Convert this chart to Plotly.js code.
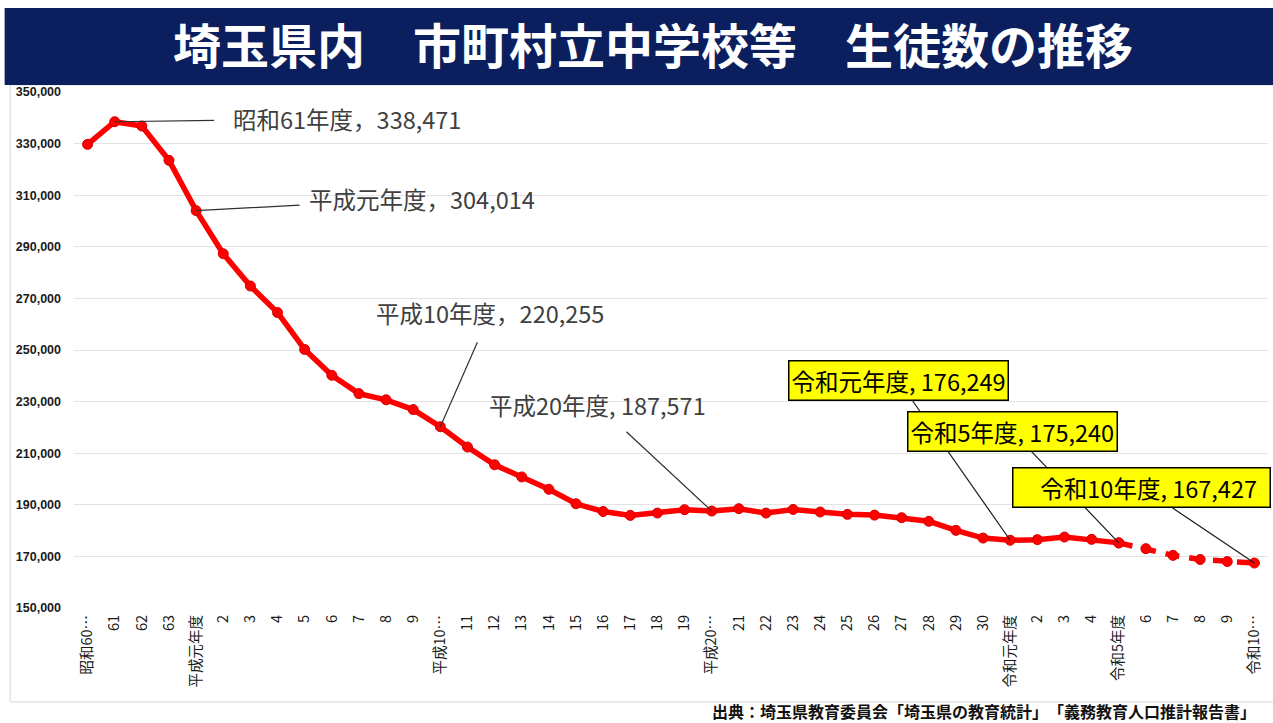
<!DOCTYPE html>
<html>
<head>
<meta charset="utf-8">
<script src="https://cdn.plot.ly/plotly-3.0.1.min.js"></script>
<style>
  html, body { margin: 0; padding: 0; background: #ffffff; }
  #chart { width: 1273px; height: 723px; }
</style>
</head>
<body>
<div id="chart"></div>
<script>
// ---- data ----
const yearLabels = [
  '昭和60…', '61', '62', '63', '平成元年度', '2', '3', '4', '5', '6', '7', '8', '9',
  '平成10…', '11', '12', '13', '14', '15', '16', '17', '18', '19',
  '平成20…', '21', '22', '23', '24', '25', '26', '27', '28', '29', '30',
  '令和元年度', '2', '3', '4', '令和5年度', '6', '7', '8', '9', '令和10…'
];
const students = [
  329700, 338471, 336800, 323500, 304014, 287300, 274800, 264500, 250200, 240200, 233100, 230700, 226900,
  220255, 212400, 205500, 200800, 196000, 190400, 187400, 185900, 186800, 188100,
  187571, 188500, 186800, 188200, 187200, 186300, 186000, 185000, 183600, 180100, 177100,
  176249, 176500, 177500, 176600, 175240, 173000, 170400, 168800, 168000, 167427
];
const lastActualIndex = 38;           // 令和5年度: after this the values are projections (dashed)
const calloutIndex  = [1, 4, 13, 23, 34, 38, 43];
const calloutPrefix = ['昭和61年度，', '平成元年度，', '平成10年度，', '平成20年度, ', '令和元年度, ', '令和5年度, ', '令和10年度, '];
const yTicks = [150000, 170000, 190000, 210000, 230000, 250000, 270000, 290000, 310000, 330000, 350000];
const titleText  = '埼玉県内　市町村立中学校等　生徒数の推移';
const sourceText = '出典：埼玉県教育委員会「埼玉県の教育統計」　「義務教育人口推計報告書」';

// ---- build ----
const xIdx = yearLabels.map((_, i) => i);
const JP = '"Noto Sans CJK JP", "Noto Sans", sans-serif';
const RED = '#ff0000';

const actual = {
  type: 'scatter', mode: 'lines+markers',
  x: xIdx.slice(0, lastActualIndex + 1),
  y: students.slice(0, lastActualIndex + 1),
  line: { color: RED, width: 5.5 },
  marker: { color: RED, size: 10, line: { color: '#d40000', width: 1 } },
  hoverinfo: 'skip', showlegend: false
};
const projected = {
  type: 'scatter', mode: 'lines+markers',
  x: xIdx.slice(lastActualIndex),
  y: students.slice(lastActualIndex),
  line: { color: RED, width: 5.5, dash: '14px,10px' },
  marker: { color: RED, size: 10, line: { color: '#d40000', width: 1 } },
  hoverinfo: 'skip', showlegend: false
};

// callout placement (pixel offsets of label centre from its point) and style
const calloutOffset = [[232, -3], [226, -12], [50, -114], [-114, -106], [-112, -160], [-106, -111], [-113, -76]];
const calloutBoxed  = [false, false, false, false, true, true, true];
const calloutStart  = [17, 8, 12, 12, 0, 0, 0];

const annotations = calloutIndex.map((idx, k) => {
  const boxed = calloutBoxed[k];
  const a = {
    x: idx, y: students[idx], xref: 'x', yref: 'y',
    text: calloutPrefix[k] + students[idx].toLocaleString('en-US'),
    showarrow: true, arrowhead: 0, arrowwidth: 1.2,
    arrowcolor: boxed ? '#1a1a1a' : '#303030',
    ax: calloutOffset[k][0], ay: calloutOffset[k][1], axref: 'pixel', ayref: 'pixel',
    standoff: 0, startstandoff: calloutStart[k],
    font: { family: JP, size: 23.5, color: boxed ? '#000000' : '#404040' },
    xanchor: 'center', yanchor: 'middle'
  };
  if (boxed) {
    a.bgcolor = '#ffff00';
    a.bordercolor = '#000000';
    a.borderwidth = 1.5;
    a.borderpad = 2;
  }
  if (k === 6) { a.width = 252; a.align = 'right'; a.text += '\u00a0\u00a0'; }
  return a;
});

annotations.push({
  xref: 'paper', yref: 'paper', x: 0.9915, y: (608 - 711) / 516,
  xanchor: 'right', yanchor: 'middle', showarrow: false,
  text: sourceText,
  font: { family: JP, size: 16, color: '#111111', weight: 'bold' }
});

const layout = {
  width: 1273, height: 723,
  margin: { l: 74, r: 5, t: 92, b: 115 },
  paper_bgcolor: '#ffffff', plot_bgcolor: '#ffffff',
  showlegend: false,
  title: {
    text: titleText,
    font: { family: JP, size: 48, color: '#ffffff', weight: 'bold' },
    x: 0.513, xanchor: 'center', xref: 'container',
    y: 1 - 47 / 723, yanchor: 'middle', yref: 'container'
  },
  xaxis: {
    range: [-0.5, yearLabels.length - 0.5],
    tickmode: 'array', tickvals: xIdx, ticktext: yearLabels,
    tickangle: -90,
    tickfont: { family: JP, size: 14.5, color: '#1a1a1a' },
    ticklabelstandoff: 3,
    showgrid: false, zeroline: false, showline: false, ticks: '',
    fixedrange: true
  },
  yaxis: {
    range: [150000, 350000],
    tickmode: 'array', tickvals: yTicks,
    ticktext: yTicks.map(v => v.toLocaleString('en-US')),
    tickfont: { family: '"Liberation Sans", Arial, sans-serif', size: 12.5, color: '#1a1a1a', weight: 'bold' },
    ticklabelstandoff: 12,
    showgrid: true, gridcolor: '#e3e3e3', gridwidth: 1,
    zeroline: false, showline: false, ticks: '',
    fixedrange: true
  },
  shapes: [
    { type: 'rect', xref: 'paper', yref: 'paper', x0: -0.0535, x1: 1.01, y0: -0.182, y1: 1.0136,
      line: { color: '#d6d6d6', width: 1 }, fillcolor: 'rgba(0,0,0,0)', layer: 'below' },
    { type: 'rect', xref: 'paper', yref: 'paper', x0: -0.0581, x1: 1.01, y0: 1.0136, y1: 1.1628,
      line: { width: 0 }, fillcolor: '#0b1f5e', layer: 'above' }
  ],
  annotations: annotations
};

Plotly.newPlot('chart', [actual, projected], layout, { staticPlot: true, displayModeBar: false });
</script>
</body>
</html>
